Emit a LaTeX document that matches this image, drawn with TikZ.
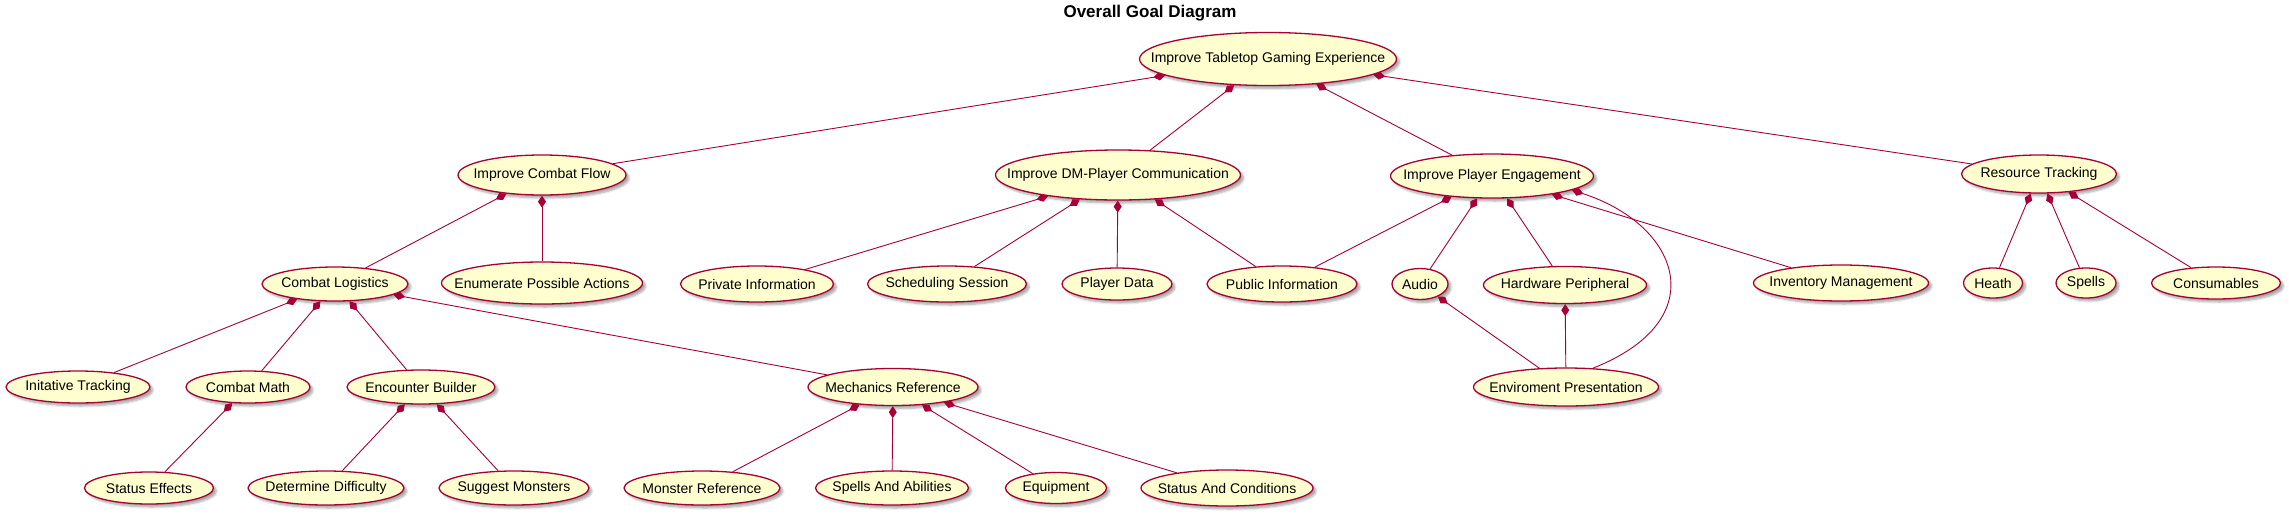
\documentclass[tikz,border=0pt]{standalone}
\usepackage{fontspec}
\setmainfont{Liberation Sans}
\usetikzlibrary{shapes.geometric,arrows.meta,shadows.blur}
\definecolor{umlborder}{HTML}{A80036}
\definecolor{umlfill}{HTML}{FEFECE}
\begin{document}
\begin{tikzpicture}[x=1pt, y=-1pt]
      \tikzset{
	  usecase/.style={ellipse, draw=umlborder, fill=umlfill, line width=1.3pt, inner sep=0pt, font=\fontsize{14}{16}\selectfont, blur shadow={shadow xshift=3pt, shadow yshift=-3pt, shadow blur steps=6, shadow opacity=35}, execute at begin node=\hbox to 0pt\bgroup\hss, execute at end node=\hss\egroup},
	  composition/.style={draw=umlborder, line width=0.9pt, {Diamond[length=12pt, width=8pt]}-},
	  diagramtitle/.style={font=\fontsize{17}{20}\selectfont\bfseries}
      }
      \useasboundingbox (0,0) rectangle (2289,517);

      \node[diagramtitle] (title) at (1150,13) {Overall Goal Diagram};

      \node[usecase, minimum width=257pt, minimum height=53pt] (tabletop) at (1268,59) {Improve Tabletop Gaming Experience};

      \node[usecase, minimum width=168pt, minimum height=40pt] (combatflow) at (542,175) {Improve Combat Flow};
      \node[usecase, minimum width=245pt, minimum height=50pt] (dmcomm) at (1118,175) {Improve DM-Player Communication};
      \node[usecase, minimum width=203pt, minimum height=44pt] (engagement) at (1492,176) {Improve Player Engagement};
      \node[usecase, minimum width=155pt, minimum height=38pt] (resources) at (2039,174) {Resource Tracking};

      \node[usecase, minimum width=146pt, minimum height=34pt] (logistics) at (335,284) {Combat Logistics};
      \node[usecase, minimum width=201pt, minimum height=42pt] (actions) at (542,283) {Enumerate Possible Actions};
      \node[usecase, minimum width=153pt, minimum height=36pt] (private) at (757,284) {Private Information};
      \node[usecase, minimum width=159pt, minimum height=36pt] (scheduling) at (947,284) {Scheduling Session};
      \node[usecase, minimum width=110pt, minimum height=32pt] (playerdata) at (1117,284) {Player Data};
      \node[usecase, minimum width=150pt, minimum height=36pt] (public) at (1282,284) {Public Information};
      \node[usecase, minimum width=56pt, minimum height=31pt] (audio) at (1420,284) {Audio};
      \node[usecase, minimum width=163pt, minimum height=37pt] (hardware) at (1565,285) {Hardware Peripheral};
      \node[usecase, minimum width=175pt, minimum height=36pt] (inventory) at (1841,283) {Inventory Management};
      \node[usecase, minimum width=59pt, minimum height=30pt] (heath) at (1993,283) {Heath};
      \node[usecase, minimum width=60pt, minimum height=30pt] (spells) at (2086,283) {Spells};
      \node[usecase, minimum width=129pt, minimum height=32pt] (consumables) at (2216,283) {Consumables};

      \node[usecase, minimum width=144pt, minimum height=32pt] (initiative) at (78,387) {Initative Tracking};
      \node[usecase, minimum width=124pt, minimum height=32pt] (combatmath) at (248,387) {Combat Math};
      \node[usecase, minimum width=148pt, minimum height=34pt] (encounter) at (421,387) {Encounter Builder};
      \node[usecase, minimum width=170pt, minimum height=37pt] (mechanics) at (893,387) {Mechanics Reference};
      \node[usecase, minimum width=185pt, minimum height=38pt] (environment) at (1566,387) {Enviroment Presentation};

      \node[usecase, minimum width=129pt, minimum height=32pt] (effects) at (149,488) {Status Effects};
      \node[usecase, minimum width=156pt, minimum height=34pt] (difficulty) at (326,488) {Determine Difficulty};
      \node[usecase, minimum width=150pt, minimum height=34pt] (monsters) at (514,488) {Suggest Monsters};
      \node[usecase, minimum width=156pt, minimum height=34pt] (monsterref) at (702,488) {Monster Reference};
      \node[usecase, minimum width=153pt, minimum height=34pt] (abilities) at (892,488) {Spells And Abilities};
      \node[usecase, minimum width=101pt, minimum height=31pt] (equipment) at (1056,488) {Equipment};
      \node[usecase, minimum width=172pt, minimum height=36pt] (conditions) at (1227,488) {Status And Conditions};

      \draw[composition] (tabletop) -- (combatflow);
      \draw[composition] (tabletop) -- (dmcomm);
      \draw[composition] (tabletop) -- (engagement);
      \draw[composition] (tabletop) -- (resources);

      \draw[composition] (combatflow) -- (logistics);
      \draw[composition] (combatflow) -- (actions);

      \draw[composition] (dmcomm) -- (private);
      \draw[composition] (dmcomm) -- (scheduling);
      \draw[composition] (dmcomm) -- (playerdata);
      \draw[composition] (dmcomm) -- (public);

      \draw[composition] (engagement) -- (public);
      \draw[composition] (engagement) -- (audio);
      \draw[composition] (engagement) -- (hardware);
      \draw[composition] (engagement) -- (inventory);
      \draw[composition] (engagement.-10) .. controls (1680,225) and (1715,320) .. (environment.35);

      \draw[composition] (resources) -- (heath);
      \draw[composition] (resources) -- (spells);
      \draw[composition] (resources) -- (consumables);

      \draw[composition] (logistics) -- (initiative);
      \draw[composition] (logistics) -- (combatmath);
      \draw[composition] (logistics) -- (encounter);
      \draw[composition] (logistics) -- (mechanics);

      \draw[composition] (combatmath) -- (effects);
      \draw[composition] (encounter) -- (difficulty);
      \draw[composition] (encounter) -- (monsters);

      \draw[composition] (mechanics) -- (monsterref);
      \draw[composition] (mechanics) -- (abilities);
      \draw[composition] (mechanics) -- (equipment);
      \draw[composition] (mechanics) -- (conditions);

      \draw[composition] (audio) -- (environment);
      \draw[composition] (hardware) -- (environment);
\end{tikzpicture}
\end{document}
